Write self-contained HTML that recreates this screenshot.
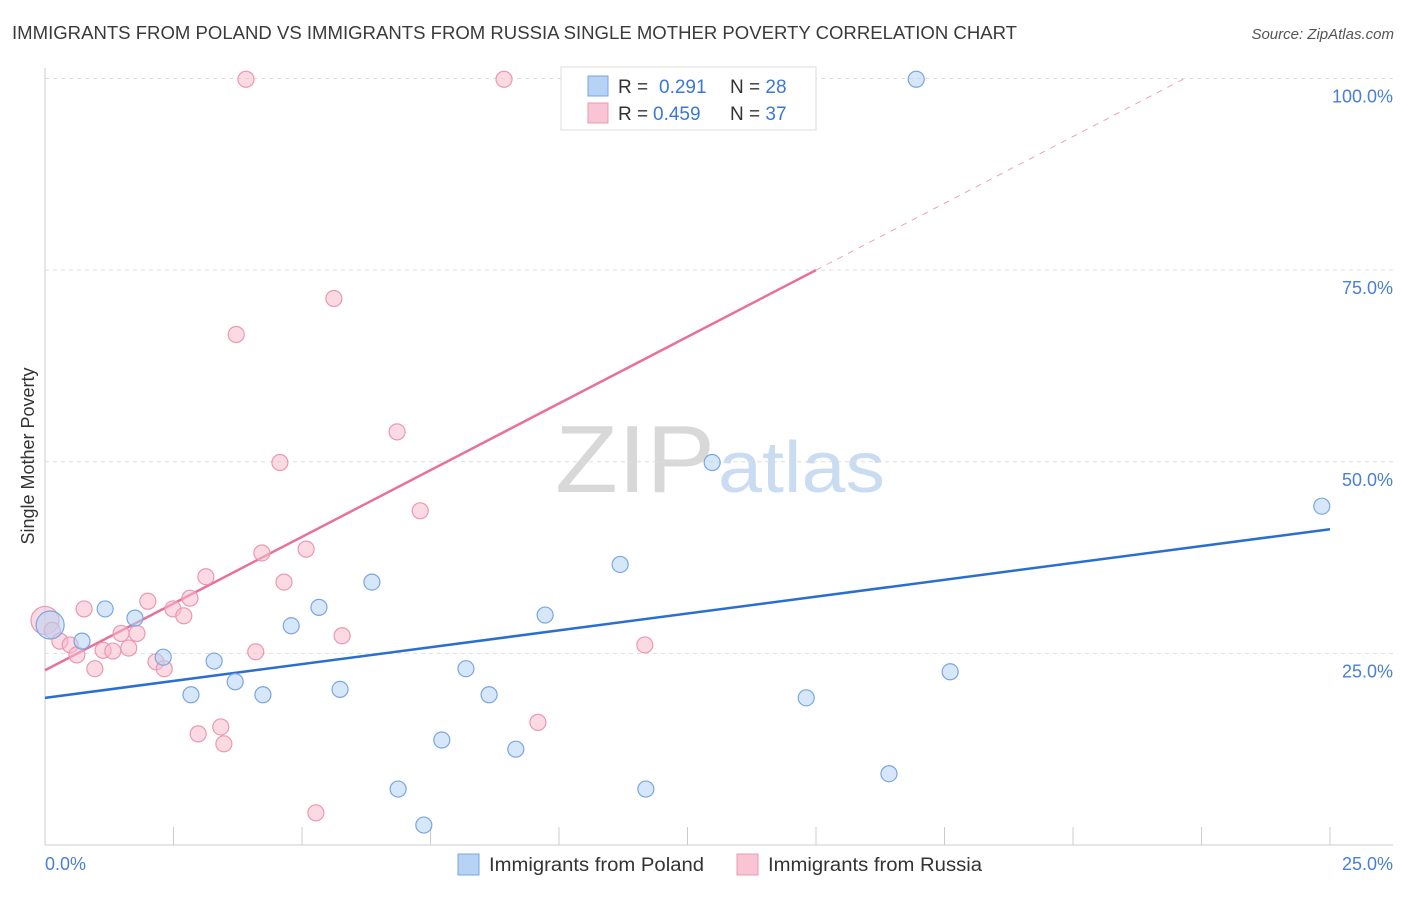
<!DOCTYPE html>
<html><head><meta charset="utf-8">
<style>
body{margin:0;background:#fff;font-family:"Liberation Sans",sans-serif;}
svg text{font-family:"Liberation Sans",sans-serif;}
</style></head>
<body>
<svg width="1406" height="892" viewBox="0 0 1406 892">
<text x="12" y="39" font-size="18" fill="#3a3a3a" textLength="1005" lengthAdjust="spacingAndGlyphs">IMMIGRANTS FROM POLAND VS IMMIGRANTS FROM RUSSIA SINGLE MOTHER POVERTY CORRELATION CHART</text>
<text x="1394" y="39" font-size="15" fill="#555" font-style="italic" text-anchor="end">Source: ZipAtlas.com</text>
<g>
<text x="555" y="492" font-size="96" fill="#d8d8d8" font-family="Liberation Serif" textLength="160" lengthAdjust="spacingAndGlyphs">ZIP</text>
<text x="718" y="492" font-size="72" fill="#c9dcf2" textLength="167" lengthAdjust="spacingAndGlyphs">atlas</text>
</g>
<g id="grid"></g>
<g id="axes"></g>
<g id="lines"></g>
<g id="points"></g>
<text transform="translate(34,456) rotate(-90)" font-size="18" fill="#333" text-anchor="middle">Single Mother Poverty</text>
<g>
<rect x="561" y="67" width="255" height="63" fill="#fff" stroke="#ddd"/>
<rect x="588" y="76" width="20" height="20" fill="#b6d3f5" stroke="#7aa6e0"/>
<rect x="588" y="103" width="20" height="20" fill="#f9c4d4" stroke="#eb98b0"/>
<text x="618" y="93" font-size="19" fill="#333">R =</text>
<text x="659" y="93" font-size="19" fill="#3a78d4">0.291</text>
<text x="730" y="93" font-size="19" fill="#333">N = <tspan fill="#3a78d4">28</tspan></text>
<text x="618" y="120" font-size="19" fill="#333">R =</text>
<text x="653" y="120" font-size="19" fill="#3a78d4">0.459</text>
<text x="730" y="120" font-size="19" fill="#333">N = <tspan fill="#3a78d4">37</tspan></text>
</g>
<g>
<rect x="458" y="854" width="21" height="21" fill="#b6d3f5" stroke="#7aa6e0"/>
<text x="489" y="871" font-size="19" fill="#333" textLength="215" lengthAdjust="spacingAndGlyphs">Immigrants from Poland</text>
<rect x="737" y="854" width="21" height="21" fill="#f9c4d4" stroke="#eb98b0"/>
<text x="768" y="871" font-size="19" fill="#333" textLength="214" lengthAdjust="spacingAndGlyphs">Immigrants from Russia</text>
</g>
</svg>
<script>
const yTicks=[25,50,75,100];
const yTickLabels=["25.0%","50.0%","75.0%","100.0%"];
const xTickCount=10;
const polandX=[0.1,1.17,0.72,1.75,2.3,2.84,3.29,3.7,4.24,4.79,5.33,5.74,6.36,6.87,7.37,7.72,8.19,8.64,9.16,9.73,11.19,11.69,12.98,14.81,16.42,16.95,17.61,24.84];
const polandY=[28.7,30.8,26.6,29.6,24.5,19.6,24.0,21.3,19.6,28.6,31.0,20.3,34.3,7.3,2.6,13.7,23.0,19.6,12.5,30.0,36.6,7.3,49.9,19.2,9.3,99.9,22.6,44.2];
const russiaX=[0,0.14,0.29,0.49,0.62,0.76,0.97,1.13,1.32,1.48,1.63,1.79,2.0,2.16,2.32,2.49,2.7,2.82,2.98,3.13,3.42,3.48,3.72,3.91,4.1,4.22,4.57,4.65,5.08,5.27,5.62,5.78,6.85,7.3,8.93,9.59,11.67];
const russiaY=[29.3,28.0,26.6,26.1,24.8,30.8,23.0,25.4,25.3,27.6,25.7,27.6,31.8,23.9,23.0,30.8,29.9,32.2,14.5,35.0,15.4,13.2,66.6,99.9,25.2,38.1,49.9,34.3,38.6,4.2,71.3,27.3,53.9,43.6,99.9,16.0,26.1];
const polandTrend=[[0,19.2],[25,41.2]];
const russiaTrendSolid=[[0,22.8],[15,75]];
const russiaTrendDash=[[15,75],[22.17,100]];

const NS="http://www.w3.org/2000/svg";
const X=v=>45+v/25*1285;
const Y=v=>845-v*7.665;
function mk(tag,attrs,parent){const e=document.createElementNS(NS,tag);for(const k in attrs)e.setAttribute(k,attrs[k]);parent.appendChild(e);return e;}
const grid=document.getElementById('grid'),axes=document.getElementById('axes'),lines=document.getElementById('lines'),pts=document.getElementById('points');
yTicks.forEach((t,i)=>{
 const l=mk('line',{x1:45,x2:1393,y1:Y(t),y2:Y(t),stroke:'#ddd','stroke-dasharray':'4,4'},grid);
 
 
 const tx=mk('text',{x:1393,y:Y(t)+24,'font-size':18,fill:'#4a7fd4','text-anchor':'end'},axes);
 tx.textContent=yTickLabels[i];
 
 
});
const ya=mk('line',{x1:45,x2:45,y1:68,y2:845,stroke:'#ccc'},axes);


const xa=mk('line',{x1:45,x2:1393,y1:845,y2:845,stroke:'#ccc'},axes);


for(let i=0;i<=xTickCount;i++){
 const v=25*i/xTickCount;
 const t=mk('line',{x1:X(v),x2:X(v),y1:827,y2:845,stroke:'#ccc'},axes);
 
 
}
const xl0=mk('text',{x:45,y:870,'font-size':18,fill:'#4a7fd4'},axes);xl0.textContent='0.0%';


const xl1=mk('text',{x:1393,y:870,'font-size':18,fill:'#4a7fd4','text-anchor':'end'},axes);xl1.textContent='25.0%';



function pointsFor(xs,ys,fill,stroke,name){
 xs.forEach((x,i)=>{
  const r=(i===0)?14:8;
  const c=mk('circle',{cx:X(x),cy:Y(ys[i]),r:r,fill:fill,'fill-opacity':0.55,stroke:stroke,'stroke-width':1.2},pts);
  
  
 });
}
pointsFor(russiaX,russiaY,'#f7bccd','#eb98b0','point-russia');
pointsFor(polandX,polandY,'#b6d3f5','#7aa6e0','point-poland');
function line(p,stroke,dash,name,w){
 const l=mk('line',{x1:X(p[0][0]),y1:Y(p[0][1]),x2:X(p[1][0]),y2:Y(p[1][1]),stroke:stroke,'stroke-width':w},lines);
 if(dash)l.setAttribute('stroke-dasharray',dash);
 
 
}
line(polandTrend,'#2a6fd0',null,'trend-poland',2.5);
line(russiaTrendSolid,'#e8709a',null,'trend-russia',2.5);
line(russiaTrendDash,'#eba3bb','6,6','trend-russia-extension',1);
</script>
</body></html>
